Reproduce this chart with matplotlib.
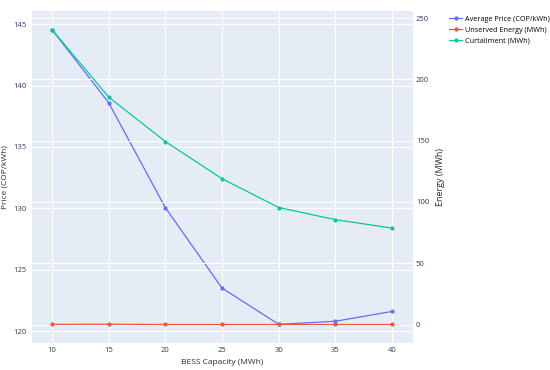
import matplotlib
matplotlib.use('Agg')
import matplotlib.pyplot as plt

# data
capacity = [10, 15, 20, 25, 30, 35, 40]
avg_price = [144.55, 138.6, 130.05, 123.5, 120.55, 120.8, 121.6]
unserved = [0.2, 0.3, 0.1, 0.1, 0.1, 0.1, 0.1]
curtailment = [240.6, 185.6, 149.3, 119.0, 95.5, 85.6, 78.7]

x_ticks = [10, 15, 20, 25, 30, 35, 40]
price_ticks = [120, 125, 130, 135, 140, 145]
energy_ticks = [0, 50, 100, 150, 200, 250]

plt.rcParams['font.family'] = ['Open Sans', 'DejaVu Sans']
tick_col = '#2a3f5f'
bg = '#E5ECF6'

fig = plt.figure(figsize=(5.5, 3.7), dpi=100)
ax1 = fig.add_axes([0.058, 0.073, 0.693, 0.897])
ax1.set_facecolor(bg)
ax2 = ax1.twinx()

for ax in (ax1, ax2):
    for s in ax.spines.values():
        s.set_visible(False)
    ax.tick_params(length=0, labelsize=5.5, colors=tick_col)

ax1.grid(True, color='white', linewidth=0.7)
ax1.set_axisbelow(True)
ax2.set_yticks(energy_ticks)
ax2.grid(True, axis='y', color='white', linewidth=0.7)

l1, = ax1.plot(capacity, avg_price, color='#636EFA', lw=0.9, marker='o', ms=2,
               label='Average Price (COP/kWh)', zorder=3)
l2, = ax2.plot(capacity, unserved, color='#EF553B', lw=0.9, marker='o', ms=2,
               label='Unserved Energy (MWh)', zorder=3)
l3, = ax2.plot(capacity, curtailment, color='#00CC96', lw=0.9, marker='o', ms=2,
               label='Curtailment (MWh)', zorder=3)

ax1.set_xlim(8.23, 41.85)
ax1.set_ylim(119.03, 146.06)
ax2.set_ylim(-15, 255.7)
ax1.set_xticks(x_ticks)
ax1.set_yticks(price_ticks)

ax1.set_xlabel('BESS Capacity (MWh)', fontsize=6, color='#2a2a2a')
ax1.set_ylabel('Price (COP/kWh)', fontsize=6, color='#2a2a2a')
ax2.set_ylabel('Energy (MWh)', fontsize=6.5, color='#2a2a2a')
ax1.xaxis.set_label_coords(0.5, -0.048)
ax1.yaxis.set_label_coords(-0.061, 0.5)
ax2.yaxis.set_label_coords(1.06, 0.5)
ax1.tick_params(axis='y', pad=4)
ax2.tick_params(axis='y', pad=2)
ax1.tick_params(axis='x', pad=3)

fig.legend(handles=[l1, l2, l3], loc='upper left', bbox_to_anchor=(0.812, 0.965),
           frameon=False, fontsize=5.2, handlelength=1.8, handletextpad=0.3,
           labelspacing=0.5, borderaxespad=0)

fig.savefig('out.png', dpi=100, facecolor='white')
